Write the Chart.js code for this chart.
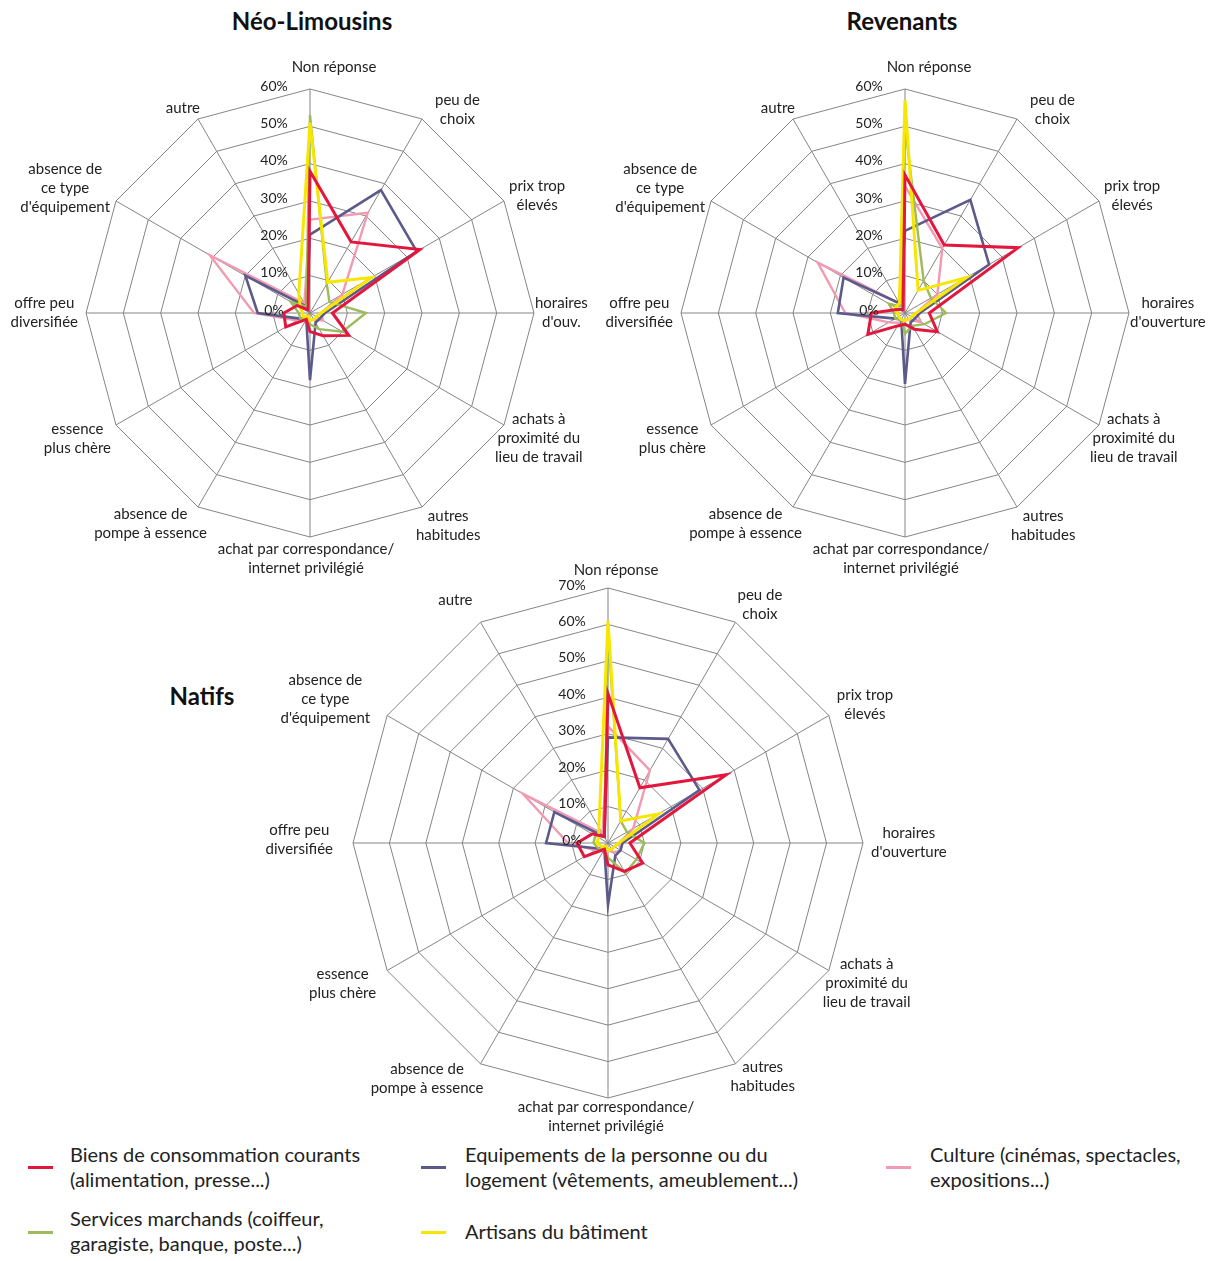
<!DOCTYPE html>
<html>
<head>
<meta charset="utf-8">
<script src="https://cdn.jsdelivr.net/npm/chart.js@4.4.1/dist/chart.umd.min.js"></script>
<style>
  body { margin: 0; background: #fff; font-family: Lato, "Open Sans", sans-serif; color: #222; }
  #page { position: relative; width: 1219px; height: 1261px; overflow: hidden; }
  canvas { position: absolute; }
  .title { position: absolute; font-weight: bold; font-size: 24px; color: #111; transform: translateX(-50%); white-space: nowrap; }
  .leg { position: absolute; font-size: 20px; line-height: 25px; color: #222; }
  .swatch { position: absolute; width: 25px; height: 3px; }
</style>
</head>
<body>
<div id="page">
  <div class="title" style="left:312px; top:6px;">Néo-Limousins</div>
  <div class="title" style="left:902px; top:6px;">Revenants</div>
  <div class="title" style="left:202px; top:681px;">Natifs</div>

  <canvas id="neo" width="600" height="585" style="left:0; top:0;"></canvas>
  <canvas id="rev" width="619" height="585" style="left:600px; top:0;"></canvas>
  <canvas id="nat" width="720" height="590" style="left:250px; top:550px;"></canvas>

  <div class="swatch" style="left:28px; top:1166px; background:#e3173e;"></div>
  <div class="leg" style="left:70px; top:1142px;">Biens de consommation courants<br>(alimentation, presse...)</div>
  <div class="swatch" style="left:421px; top:1166px; background:#5c5a8a;"></div>
  <div class="leg" style="left:465px; top:1142px;">Equipements de la personne ou du<br>logement (vêtements, ameublement...)</div>
  <div class="swatch" style="left:886px; top:1166px; background:#f19ab2;"></div>
  <div class="leg" style="left:930px; top:1142px;">Culture (cinémas, spectacles,<br>expositions...)</div>
  <div class="swatch" style="left:28px; top:1231px; background:#9dbb5a;"></div>
  <div class="leg" style="left:70px; top:1206px;">Services marchands (coiffeur,<br>garagiste, banque, poste...)</div>
  <div class="swatch" style="left:421px; top:1231px; background:#f7e600;"></div>
  <div class="leg" style="left:465px; top:1219px;">Artisans du bâtiment</div>
</div>

<script>
// axes, clockwise from the top
const axesShort = [
  'Non réponse', ['peu de', 'choix'], ['prix trop', 'élevés'], ['horaires', "d'ouv."],
  ['achats à', 'proximité du', 'lieu de travail'], ['autres', 'habitudes'],
  ['achat par correspondance/', 'internet privilégié'], ['absence de', 'pompe à essence'],
  ['essence', 'plus chère'], ['offre peu', 'diversifiée'], ['absence de', 'ce type', "d'équipement"], 'autre'
];
const axesLong = axesShort.map((l, i) => i === 3 ? ['horaires', "d'ouverture"] : l);

// values in %, same order as the axes
const neoBiens     = [38, 22, 34, 6, 12, 7, 5, 2, 7.5, 7, 4, 1];
const neoEquip     = [21, 38, 33, 4, 3, 3, 18, 2, 3, 14, 20, 2];
const neoCulture   = [25, 31, 10, 3, 4, 2, 2, 2, 4, 15, 31, 3];
const neoServices  = [53, 9, 6, 15, 10, 5, 3, 2, 3, 3, 6, 2];
const neoArtisans  = [51, 9.5, 19, 3, 2, 2, 2, 1, 2, 2, 3, 6];

const revBiens     = [37, 21, 35, 6.5, 10, 5, 3, 4, 11.5, 9, 2, 1];
const revEquip     = [22, 35, 26, 4, 3, 3, 19, 2, 3, 18, 19, 3];
const revCulture   = [34, 20, 10, 3, 5, 2, 2, 3, 5, 16, 27, 3];
const revServices  = [50, 10, 8, 11, 6, 4, 5.5, 2, 3, 3, 5, 2];
const revArtisans  = [57, 7, 19, 3, 2, 2, 2, 2, 2, 2, 3, 3];

const natBiens     = [41, 17.5, 37.5, 6, 11, 9, 6, 2, 7.5, 8.5, 5, 2];
const natEquip     = [29, 33, 29, 4, 4, 4, 17, 2, 3, 17, 17, 2];
const natCulture   = [32, 23, 8, 3, 4, 3, 2, 2, 4, 11, 27, 3];
const natServices  = [58, 7, 6, 10, 9, 9.5, 4, 2, 3, 4, 4, 2];
const natArtisans  = [61, 7, 16, 3, 2, 2, 2, 1, 2, 3, 3, 5];

const RED = '#e3173e', PURPLE = '#5c5a8a', PINK = '#f19ab2', GREEN = '#9dbb5a', YELLOW = '#f7e600';

// label placement: [align, edge offset from outer vertex, vertical offset]
const placeTop = [
  ['center', 24, -22], ['left', 13, -9], ['left', 5, -5], ['left', 1, 0],
  ['left', -9, 13], ['left', -6, 19], ['center', -4, 22], ['right', 9, 17],
  ['right', -5, 14], ['right', -8, 0], ['right', -6, -13], ['right', 2, -11]
];
const placeNat = [
  ['center', 8, -18], ['left', 2, -18], ['left', 8, -11], ['left', 8, 0],
  ['left', -6, 13], ['left', -5, 13], ['center', -2, 19], ['right', 3, 15],
  ['right', -11, 13], ['right', -20, -3], ['right', -17, -16], ['right', -8, -22]
];

const labelPlugin = {
  id: 'radarLabels',
  afterDraw(chart, args, opts) {
    const s = chart.scales.r;
    const ctx = chart.ctx;
    ctx.save();
    ctx.fillStyle = '#222';
    ctx.font = '14px Lato';
    ctx.textAlign = 'center';
    ctx.textBaseline = 'middle';
    s.ticks.forEach(t => {
      const d = s.getDistanceFromCenterForValue(t.value);
      ctx.fillText(t.value + '%', s.xCenter - 36, s.yCenter - d - 3);
    });
    ctx.font = '15px Lato';
    const lh = 19;
    chart.data.labels.forEach((lab, i) => {
      const p = s.getPointPosition(i, s.drawingArea);
      const [align, gx, dy] = opts.place[i];
      const lines = Array.isArray(lab) ? lab : [lab];
      const w = Math.max(...lines.map(l => ctx.measureText(l).width));
      let cx = p.x + gx;
      if (align === 'left') cx += w / 2;
      if (align === 'right') cx -= w / 2;
      const cy = p.y + dy;
      lines.forEach((l, k) => {
        ctx.fillText(l, cx, cy + (k - (lines.length - 1) / 2) * lh);
      });
    });
    ctx.restore();
  }
};

function ds(label, data, color, width) {
  return { label, data, borderColor: color, borderWidth: width, fill: false, pointRadius: 0, tension: 0 };
}

function makeRadar(id, labels, sets, max, pad, place) {
  new Chart(document.getElementById(id), {
    type: 'radar',
    data: {
      labels: labels,
      datasets: [
        ds('Biens de consommation courants', sets[0], RED, 3),
        ds('Artisans du bâtiment', sets[4], YELLOW, 3),
        ds('Services marchands', sets[3], GREEN, 2.4),
        ds('Equipements de la personne ou du logement', sets[1], PURPLE, 2.6),
        ds('Culture', sets[2], PINK, 2.4)
      ]
    },
    options: {
      responsive: false,
      animation: false,
      layout: { padding: pad },
      plugins: { legend: { display: false }, tooltip: { enabled: false }, radarLabels: { place: place } },
      scales: {
        r: {
          min: 0, max: max,
          ticks: { stepSize: 10, display: false },
          pointLabels: { display: false },
          grid: { color: '#858585', lineWidth: 1 },
          angleLines: { color: '#858585', lineWidth: 1 }
        }
      }
    },
    plugins: [labelPlugin]
  });
}

makeRadar('neo', axesShort, [neoBiens, neoEquip, neoCulture, neoServices, neoArtisans], 60,
  { left: 86, right: 66, top: 89, bottom: 48 }, placeTop);
makeRadar('rev', axesLong, [revBiens, revEquip, revCulture, revServices, revArtisans], 60,
  { left: 81, right: 90, top: 89, bottom: 48 }, placeTop);
makeRadar('nat', axesLong, [natBiens, natEquip, natCulture, natServices, natArtisans], 70,
  { left: 103, right: 107, top: 38, bottom: 42 }, placeNat);
</script>
</body>
</html>
